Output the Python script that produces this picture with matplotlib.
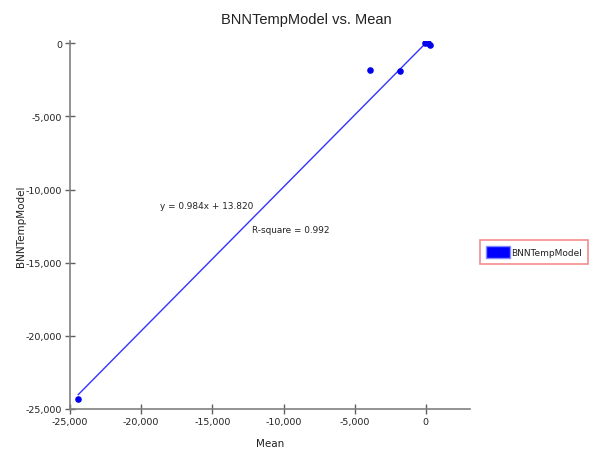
import matplotlib
matplotlib.use("Agg")
import matplotlib.pyplot as plt
from matplotlib.patches import Patch
from matplotlib.ticker import FuncFormatter

# data
mean_x = [-24420, -3930, -1826, -70, 140, 280]
model_y = [-24320, -1824, -1933, 0, 0, -137]
slope = 0.984
intercept = 13.820
r_square = 0.992
x_ticks = [-25000, -20000, -15000, -10000, -5000, 0]
y_ticks = [-25000, -20000, -15000, -10000, -5000, 0]

plt.rcParams['font.family'] = ['DejaVu Sans']

fig = plt.figure(figsize=(5.89, 4.52), dpi=100)
ax = fig.add_axes([70/589, 1-410/452, 400/589, (410-42)/452])

x0, x1 = min(mean_x), max(mean_x)
ax.plot([x0, x1], [slope*x0 + intercept, slope*x1 + intercept], color='#3333ff', lw=1.0, zorder=2)
ax.scatter(mean_x, model_y, s=14, color='#0000ee', zorder=3)

ax.set_xlim(-25000, 3100)
ax.set_ylim(-25000, 150)
ax.set_xticks(x_ticks)
ax.set_yticks(y_ticks)
fmt = FuncFormatter(lambda v, p: f"{int(v):,}")
ax.xaxis.set_major_formatter(fmt)
ax.yaxis.set_major_formatter(fmt)

for s in ['top', 'right']:
    ax.spines[s].set_visible(False)
for s in ['left', 'bottom']:
    ax.spines[s].set_color('#808080')
    ax.spines[s].set_linewidth(1.2)
ax.tick_params(direction='inout', length=7, width=1, color='#606060', labelsize=6.8, labelcolor='#222222', pad=2)

fig.text(306/589, 1-20/452, 'BNNTempModel vs. Mean', fontsize=10.5, color='#222222',
         ha='center', va='center', family=['Liberation Sans'])
ax.set_xlabel('Mean', fontsize=7.5, color='#222222')
ax.xaxis.set_label_coords(0.5, -(439-410)/368)
ax.set_ylabel('BNNTempModel', fontsize=7.5, color='#222222')
ax.yaxis.set_label_coords(-(70-26)/400, 0.5)

ax.text(-15380, -11066, f'y = {slope:.3f}x + {intercept:.3f}', fontsize=6.4, ha='center', va='center', color='#222222')
ax.text(-9480, -12700, f'R-square = {r_square:.3f}', fontsize=6.4, ha='center', va='center', color='#222222')

leg = fig.legend(handles=[Patch(facecolor='#0000ff', edgecolor='#8888ff', label='BNNTempModel')],
                 loc='center', bbox_to_anchor=(534/589, 1-253/452), fontsize=6.5,
                 frameon=True, fancybox=False, edgecolor='#f07070', handlelength=2.6,
                 handleheight=1.6, handletextpad=0.1, borderpad=0.7, borderaxespad=0)
leg.get_frame().set_linewidth(1.2)
for t in leg.get_texts():
    t.set_color('#222222')

fig.savefig('out.png', dpi=100)
